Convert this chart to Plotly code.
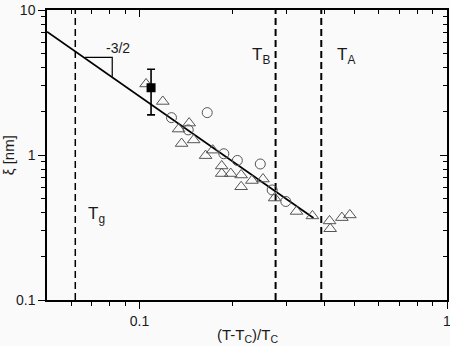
import plotly.graph_objects as go

# open triangles
tri_x = [0.105, 0.119, 0.134, 0.145, 0.137, 0.150, 0.164, 0.173, 0.185, 0.185, 0.198,
         0.214, 0.214, 0.232, 0.252, 0.275, 0.324, 0.365, 0.415, 0.417, 0.455, 0.483]
tri_y = [3.09, 2.34, 1.51, 1.66, 1.20, 1.27, 0.99, 1.08, 0.84, 0.745, 0.745,
         0.728, 0.604, 0.667, 0.683, 0.505, 0.408, 0.380, 0.351, 0.310, 0.370, 0.386]

# open circles
circ_x = [0.127, 0.166, 0.144, 0.188, 0.208, 0.247, 0.270, 0.299]
circ_y = [1.81, 1.96, 1.49, 1.02, 0.917, 0.867, 0.574, 0.478]

# filled square with error bar
sq_x = [0.109]
sq_y = [2.91]
sq_err_up = [0.99]
sq_err_down = [1.02]

# power-law guide line (slope -3/2)
fit_x = [0.05, 0.368]
fit_y = [7.09, 0.368]
slope_x = [0.0665, 0.0815, 0.0815]
slope_y = [4.72, 4.72, 3.46]

# characteristic temperatures
t_names = ["T<sub>g</sub>", "T<sub>B</sub>", "T<sub>A</sub>"]
t_vals = [0.0618, 0.277, 0.390]

x_range = [0.05, 1]
y_range = [0.1, 10]
x_minor = [0.06, 0.07, 0.08, 0.09, 0.2, 0.3, 0.4, 0.5, 0.6, 0.7, 0.8, 0.9]
y_minor = [0.2, 0.3, 0.4, 0.5, 0.6, 0.7, 0.8, 0.9, 2, 3, 4, 5, 6, 7, 8, 9]

fig = go.Figure()

for i, tv in enumerate(t_vals):
    fig.add_trace(go.Scatter(
        x=[tv, tv], y=y_range, mode="lines",
        line=dict(color="black", width=1.5 if i == 0 else 2, dash="7px,4px"),
        showlegend=False, hoverinfo="skip",
    ))

fig.add_trace(go.Scatter(x=fit_x, y=fit_y, mode="lines",
                         line=dict(color="black", width=1.7), showlegend=False))
fig.add_trace(go.Scatter(x=slope_x, y=slope_y, mode="lines",
                         line=dict(color="black", width=1.2), showlegend=False))

fig.add_trace(go.Scatter(
    x=tri_x, y=tri_y, mode="markers",
    marker=dict(symbol="triangle-up-open", size=11, color="#555", line=dict(width=1)),
    showlegend=False,
))
fig.add_trace(go.Scatter(
    x=circ_x, y=circ_y, mode="markers",
    marker=dict(symbol="circle-open", size=10, color="#555", line=dict(width=1)),
    showlegend=False,
))
fig.add_trace(go.Scatter(
    x=sq_x, y=sq_y, mode="markers",
    marker=dict(symbol="square", size=9, color="black"),
    error_y=dict(type="data", symmetric=False, array=sq_err_up,
                 arrayminus=sq_err_down, color="black", thickness=1.6, width=4),
    showlegend=False,
))
# dummy trace for mirrored axes
fig.add_trace(go.Scatter(x=[], y=[], xaxis="x2", yaxis="y2", showlegend=False))

axis_common = dict(
    type="log", showgrid=False, zeroline=False, showline=True, automargin=False,
    linecolor="black", linewidth=1.5, ticklen=7, tickwidth=1.2, tickcolor="black",
)

fig.update_layout(
    width=450, height=346,
    margin=dict(l=47, r=3, t=10, b=46),
    paper_bgcolor="#fafafa", plot_bgcolor="#fafafa",
    font=dict(family="Liberation Sans, Arial, sans-serif", size=14, color="#1a1a1a"),
    xaxis=dict(
        **axis_common, range=[-1.30103, 0], ticks="outside",
        tickmode="array", tickvals=[0.1, 1], ticktext=["0.1", "1"],
        ticklabeloverflow="allow",
        minor=dict(ticks="outside", ticklen=4, tickvals=x_minor, tickcolor="black"),
    ),
    yaxis=dict(
        **axis_common, range=[-1, 1], ticks="outside",
        tickmode="array", tickvals=[0.1, 1, 10], ticktext=["0.1", "1", "10"],
        ticklabeloverflow="allow",
        minor=dict(ticks="outside", ticklen=4, tickvals=y_minor, tickcolor="black"),
    ),
    xaxis2=dict(
        **axis_common, range=[-1.30103, 0], ticks="inside", overlaying="x",
        side="top", anchor="y2", showticklabels=False,
        tickmode="array", tickvals=[0.1, 1],
        minor=dict(ticks="inside", ticklen=4, tickvals=x_minor, tickcolor="black"),
    ),
    yaxis2=dict(
        **axis_common, range=[-1, 1], ticks="inside", overlaying="y",
        side="right", anchor="x2", showticklabels=False,
        tickmode="array", tickvals=[0.1, 1, 10],
        minor=dict(ticks="inside", ticklen=4, tickvals=y_minor, tickcolor="black"),
    ),
)

label_pos = [(0.098, 0.293), (0.508, 0.841), (0.72, 0.841)]
for name, (px, py) in zip(t_names, label_pos):
    fig.add_annotation(text=name, xref="paper", yref="paper", x=px, y=py,
                       xanchor="left", yanchor="middle", showarrow=False,
                       font=dict(size=17))

fig.add_annotation(text="-3/2", xref="paper", yref="paper", x=0.178, y=0.869,
                   xanchor="center", yanchor="middle", showarrow=False,
                   font=dict(size=14))
fig.add_annotation(text="(T-T<sub>C</sub>)/T<sub>C</sub>", xref="paper", yref="paper",
                   x=0.5, y=-0.124, xanchor="center", yanchor="middle",
                   showarrow=False, font=dict(size=15))
fig.add_annotation(text="ξ [nm]", xref="paper", yref="paper", x=-0.097, y=0.5,
                   xanchor="center", yanchor="middle", textangle=-90,
                   showarrow=False, font=dict(size=15))

# the default page has an 8px body margin; drop it so the chart sits at (0, 0)
fig.write_html(
    "out.html",
    config={"displayModeBar": False},
    post_script="document.body.style.margin='0';document.body.style.overflow='hidden';",
)
